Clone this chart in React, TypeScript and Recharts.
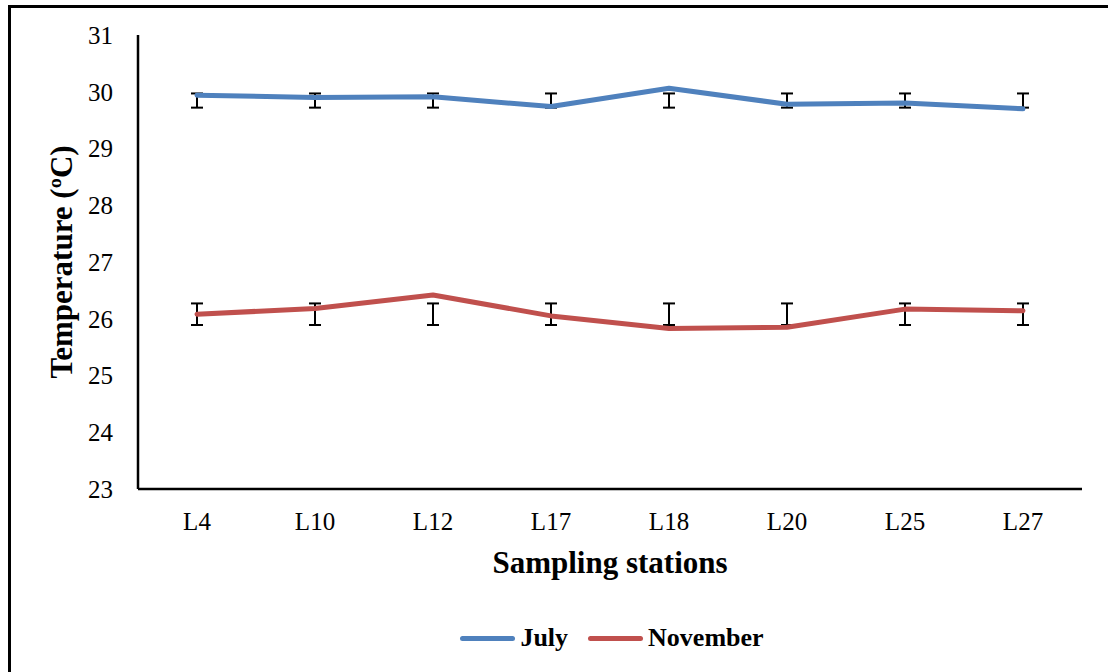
import React from 'react';
import { ComposedChart, Line, XAxis, YAxis, Legend, ErrorBar, Label } from 'recharts';

const stations = ['L4', 'L10', 'L12', 'L17', 'L18', 'L20', 'L25', 'L27'];
const july = [29.94, 29.9, 29.91, 29.74, 30.06, 29.78, 29.8, 29.7];
const november = [26.08, 26.18, 26.42, 26.05, 25.83, 25.85, 26.17, 26.14];
// error bar ends as drawn in the figure
const julyLow = [29.72, 29.72, 29.72, 29.72, 29.72, 29.72, 29.72, 29.72];
const julyHigh = [29.97, 29.97, 29.97, 29.97, 29.97, 29.97, 29.97, 29.97];
const novLow = [25.89, 25.89, 25.89, 25.89, 25.89, 25.89, 25.89, 25.89];
const novHigh = [26.27, 26.27, 26.27, 26.27, 26.27, 26.27, 26.27, 26.27];
const yTicks = [23, 24, 25, 26, 27, 28, 29, 30, 31];

const FONT = '"Liberation Serif", "Times New Roman", serif';
const JULY_COLOR = '#4F81BD';
const NOV_COLOR = '#C0504D';

const data = stations.map((name, i) => ({
    name,
    July: july[i],
    November: november[i],
    julyBarMid: (julyLow[i] + julyHigh[i]) / 2,
    julyBarErr: (julyHigh[i] - julyLow[i]) / 2,
    novBarMid: (novLow[i] + novHigh[i]) / 2,
    novBarErr: (novHigh[i] - novLow[i]) / 2,
}));

function LegendContent() {
    const items = [
        { label: 'July', color: JULY_COLOR },
        { label: 'November', color: NOV_COLOR },
    ];
    return (
        <div style={{ display: 'flex', justifyContent: 'center', alignItems: 'center', fontFamily: FONT }}>
            {items.map((it, i) => (
                <div key={it.label} style={{ display: 'flex', alignItems: 'center', marginLeft: i ? 20 : 0 }}>
                    <span style={{ display: 'inline-block', width: 55, height: 5, borderRadius: 3, background: it.color, marginRight: 5 }} />
                    <span style={{ fontSize: 26, fontWeight: 'bold', color: '#000' }}>{it.label}</span>
                </div>
            ))}
        </div>
    );
}

export default function App() {
    return (
        <div style={{ position: 'fixed', left: 0, top: 0, width: 1108, height: 672, overflow: 'hidden', background: '#fff' }}>
            <div style={{ position: 'absolute', left: 8, top: 5, width: 1120, height: 700, border: '3px solid #000', boxSizing: 'border-box' }} />
            <div style={{ position: 'absolute', left: 0, top: 0 }}>
                <ComposedChart
                    width={1108}
                    height={672}
                    data={data}
                    margin={{ top: 35, right: 26, left: 78, bottom: 123 }}
                    style={{ fontFamily: FONT }}
                >
                    <XAxis
                        dataKey="name"
                        height={60}
                        padding={{ left: 59, right: 59 }}
                        axisLine={{ stroke: '#000', strokeWidth: 2.5 }}
                        tickLine={false}
                        tickMargin={17}
                        tick={{ fill: '#000', fontSize: 25, fontFamily: FONT }}
                    >
                        <Label
                            content={({ viewBox }: any) => (
                                <text
                                    x={viewBox.x + viewBox.width / 2}
                                    y={viewBox.y + 84}
                                    textAnchor="middle"
                                    fontSize={31}
                                    fontWeight="bold"
                                    fontFamily={FONT}
                                    fill="#000"
                                >
                                    Sampling stations
                                </text>
                            )}
                        />
                    </XAxis>
                    <YAxis
                        width={60}
                        domain={[23, 31]}
                        ticks={yTicks}
                        interval={0}
                        axisLine={{ stroke: '#000', strokeWidth: 2.5 }}
                        tickLine={false}
                        tickMargin={19}
                        tick={{ fill: '#000', fontSize: 25, fontFamily: FONT }}
                    >
                        <Label
                            content={({ viewBox }: any) => {
                                const x = viewBox.x - 6;
                                const y = viewBox.y + viewBox.height / 2;
                                return (
                                    <text
                                        x={x}
                                        y={y}
                                        transform={`rotate(-90, ${x}, ${y})`}
                                        textAnchor="middle"
                                        fontSize={31}
                                        fontWeight="bold"
                                        fontFamily={FONT}
                                        fill="#000"
                                    >
                                        Temperature (ºC)
                                    </text>
                                );
                            }}
                        />
                    </YAxis>
                    <Legend
                        verticalAlign="middle"
                        align="center"
                        content={<LegendContent />}
                        wrapperStyle={{ top: 623, left: 58, width: 1108 }}
                    />
                    <Line dataKey="julyBarMid" stroke="none" dot={false} activeDot={false} legendType="none" isAnimationActive={false}>
                        <ErrorBar dataKey="julyBarErr" width={6} stroke="#000" strokeWidth={2} isAnimationActive={false} />
                    </Line>
                    <Line dataKey="novBarMid" stroke="none" dot={false} activeDot={false} legendType="none" isAnimationActive={false}>
                        <ErrorBar dataKey="novBarErr" width={6} stroke="#000" strokeWidth={2} isAnimationActive={false} />
                    </Line>
                    <Line
                        dataKey="July"
                        stroke={JULY_COLOR}
                        strokeWidth={5}
                        strokeLinecap="round"
                        strokeLinejoin="round"
                        dot={false}
                        activeDot={false}
                        isAnimationActive={false}
                    />
                    <Line
                        dataKey="November"
                        stroke={NOV_COLOR}
                        strokeWidth={5}
                        strokeLinecap="round"
                        strokeLinejoin="round"
                        dot={false}
                        activeDot={false}
                        isAnimationActive={false}
                    />
                </ComposedChart>
            </div>
        </div>
    );
}
